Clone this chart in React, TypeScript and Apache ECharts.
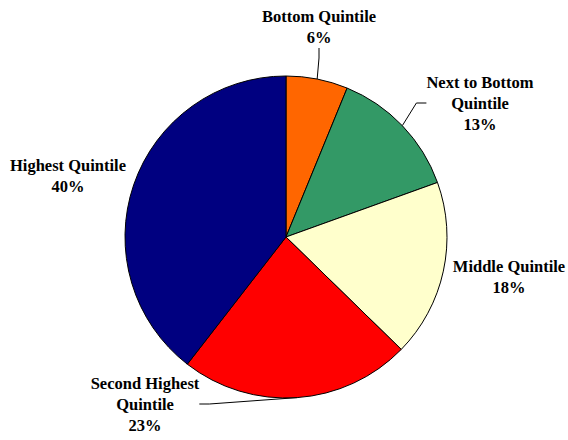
import React, { useEffect, useRef } from "react";
import * as echarts from "echarts";

const categories = [
  "Bottom Quintile",
  "Next to Bottom\nQuintile",
  "Middle Quintile",
  "Second Highest\nQuintile",
  "Highest Quintile",
];
const shares = [6.2, 13.3, 17.8, 23.2, 39.5];
const colors = ["#FF6600", "#339966", "#FFFFCC", "#FF0000", "#000080"];
const labelCenters: [number, number][] = [
  [319, 27],
  [480, 103],
  [509, 277],
  [145, 404],
  [68, 176],
];
const showLines = [true, true, false, true, false];

export default function App() {
  const ref = useRef<HTMLDivElement>(null);
  useEffect(() => {
    if (!ref.current) return;
    const chart = echarts.init(ref.current, null, { renderer: "svg" });
    chart.setOption({
      animation: false,
      backgroundColor: "#ffffff",
      series: [
        {
          type: "pie",
          center: [286, 237],
          radius: 161,
          startAngle: 90,
          clockwise: true,
          avoidLabelOverlap: false,
          itemStyle: { borderColor: "#000000", borderWidth: 1 },
          label: {
            show: true,
            formatter: (p: any) => `${p.name}\n${Math.round(p.value)}%`,
            fontFamily: "serif",
            fontWeight: "bold",
            fontSize: 16.5,
            lineHeight: 21,
            color: "#000000",
            align: "center",
          },
          labelLine: {
            show: true,
            lineStyle: { color: "#000000", width: 1 },
            length: 10,
            length2: 10,
          },
          labelLayout: (params: any) => {
            const c = labelCenters[params.dataIndex];
            return {
              x: c[0],
              y: c[1],
              align: "center",
              verticalAlign: "middle",
            };
          },
          data: categories.map((name, i) => ({
            name,
            value: shares[i],
            itemStyle: { color: colors[i] },
            labelLine: { show: showLines[i] },
          })),
        },
      ],
    });
    return () => chart.dispose();
  }, []);
  return (
    <div
      ref={ref}
      style={{ position: "fixed", left: 0, top: 0, width: 568, height: 440 }}
    />
  );
}
